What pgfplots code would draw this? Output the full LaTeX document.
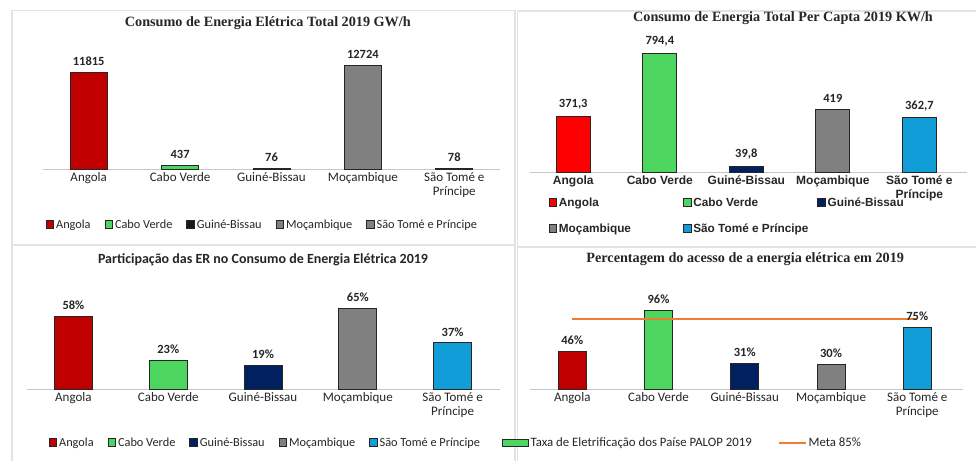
\documentclass[border=0pt]{standalone}
\usepackage{pgfplots}
\pgfplotsset{compat=1.18}
\usepackage{fontspec}
\setmainfont{Carlito}
\newfontfamily\serifb{Liberation Serif}
\newfontfamily\arialf{Liberation Sans}

\definecolor{cRed}{HTML}{C00000}
\definecolor{cRedB}{HTML}{FF0000}
\definecolor{cGreen}{HTML}{4CD660}
\definecolor{cNavy}{HTML}{002060}
\definecolor{cGray}{HTML}{808080}
\definecolor{cBlue}{HTML}{119ED8}
\definecolor{cOrange}{HTML}{ED7D31}
\definecolor{cBlack}{HTML}{1A1A1A}
\definecolor{frameG}{HTML}{E3E3E3}

\pgfplotsset{
  panel/.style={
    scale only axis, clip=false,
    axis x line*=bottom, axis y line=none,
    x axis line style={-, draw=gray!45, line width=0.8pt},
    xtick={0,1,2,3,4}, major tick length=0pt, ymin=0,
    xticklabel style={align=center, font=\fontsize{13}{14.5}\selectfont, text=black!85},
    xticklabels={Angola,Cabo Verde,Guiné-Bissau,Moçambique,{São Tomé e\\Príncipe}},
    legend cell align=left,
    legend style={draw=none, fill=none, font=\fontsize{12.3}{13}\selectfont, text=black!85,
      /tikz/every even column/.append style={column sep=12pt}},
    title style={font=\serifb\bfseries\fontsize{14.2}{16}\selectfont, anchor=center, text=black!85},
  },
  pbar/.style={ybar, bar width=#1, draw=black!85, line width=0.8pt,
     legend image code/.code={\draw[##1, line width=0.8pt] (0pt,-3.4pt) rectangle (7.6pt,4.2pt);},
     nodes near coords, point meta=explicit symbolic,
     every node near coord/.append style={font=\bfseries\fontsize{12.5}{13}\selectfont, text=black!85, yshift=3pt}},
  rectleg/.style={legend image code/.code={\draw[##1] (0pt,-3.5pt) rectangle (26pt,3.5pt);}},
  lineleg/.style={legend image code/.code={\draw[##1] (0pt,0pt) -- (27pt,0pt);}},
}

\begin{document}
\begin{tikzpicture}
\useasboundingbox (0,0) rectangle (976pt,460pt);
\fill[white] (0,0) rectangle (976pt,460pt);
\draw[frameG, line width=1.5pt] (12pt,-2pt) -- (12pt,449.5pt) -- (515pt,449.5pt) -- (515pt,-2pt);
\draw[frameG, line width=1.5pt] (12pt,215pt) -- (515pt,215pt);
\draw[frameG, line width=1.5pt] (980pt,449pt) -- (517.5pt,449pt) -- (517.5pt,-2pt);
\draw[frameG, line width=1.5pt] (517.5pt,213pt) -- (980pt,213pt);

% ---------------- Panel A (top-left)
\begin{axis}[panel, at={(43pt,291pt)}, anchor=south west, width=457pt, height=130pt,
  xmin=-0.5, xmax=4.5, ymax=15905,
  title={Consumo de Energia Elétrica Total 2019 GW/h},
  title style={at={(0.492,1.077)}},
  legend columns=5,
  legend style={at={(0.48,-0.43)}, anchor=center},
]
\addplot[pbar=37pt, fill=cRed] coordinates {(0,11815) [11815]};
\addlegendentry{Angola}
\addplot[pbar=37pt, fill=cGreen] coordinates {(1,437) [437]};
\addlegendentry{Cabo Verde}
\addplot[pbar=37pt, fill=cBlack] coordinates {(2,76) [76]};
\addlegendentry{Guiné-Bissau}
\addplot[pbar=37pt, fill=cGray] coordinates {(3,12724) [12724]};
\addlegendentry{Moçambique}
\addplot[pbar=37pt, fill=cGray] coordinates {(4,78) [78]};
\addlegendentry{São Tomé e Príncipe}
\end{axis}

% ---------------- Panel B (top-right)
\begin{axis}[panel, at={(530pt,288pt)}, anchor=south west, width=437pt, height=130pt,
  xmin=-0.5, xmax=4.55, ymax=867.8,
  title={Consumo de Energia Total Per Capta 2019 KW/h},
  title style={at={(0.579,1.138)}},
  xticklabel style={font=\arialf\bfseries\fontsize{12}{14}\selectfont},
  legend columns=3,
  legend style={at={(0.035,-0.165)}, anchor=north west, row sep=12pt,
    font=\arialf\bfseries\fontsize{11.8}{13}\selectfont,
    /tikz/every even column/.append style={column sep=0pt}},
  every node near coord/.append style={font=\arialf\bfseries\fontsize{12.5}{13}\selectfont},
]
\addplot[pbar=34pt, fill=cRedB] coordinates {(0,371.3) [371,3]};
\addlegendentry{\makebox[122pt][l]{Angola}}
\addplot[pbar=34pt, fill=cGreen] coordinates {(1,794.4) [794,4]};
\addlegendentry{\makebox[122pt][l]{Cabo Verde}}
\addplot[pbar=34pt, fill=cNavy] coordinates {(2,39.8) [39,8]};
\addlegendentry{\makebox[122pt][l]{Guiné-Bissau}}
\addplot[pbar=34pt, fill=cGray] coordinates {(3,419) [419]};
\addlegendentry{\makebox[122pt][l]{Moçambique}}
\addplot[pbar=34pt, fill=cBlue] coordinates {(4,362.7) [362,7]};
\addlegendentry{\makebox[122pt][l]{São Tomé e Príncipe}}
\end{axis}

% ---------------- Panel C (bottom-left)
\begin{axis}[panel, at={(27pt,71pt)}, anchor=south west, width=473pt, height=100pt,
  xmin=-0.49, xmax=4.5, ymax=80.2,
  title={Participação das ER no Consumo de Energia Elétrica 2019},
  title style={at={(0.499,1.23)}, font=\bfseries\fontsize{14}{16}\selectfont},
  legend columns=5,
  legend style={at={(0.504,-0.54)}, anchor=center},
]
\addplot[pbar=38pt, fill=cRed] coordinates {(0,58) [58\%]};
\addlegendentry{Angola}
\addplot[pbar=38pt, fill=cGreen] coordinates {(1,23) [23\%]};
\addlegendentry{Cabo Verde}
\addplot[pbar=38pt, fill=cNavy] coordinates {(2,19) [19\%]};
\addlegendentry{Guiné-Bissau}
\addplot[pbar=38pt, fill=cGray] coordinates {(3,65) [65\%]};
\addlegendentry{Moçambique}
\addplot[pbar=38pt, fill=cBlue] coordinates {(4,37) [37\%]};
\addlegendentry{São Tomé e Príncipe}
\end{axis}

% ---------------- Panel D (bottom-right)
\begin{axis}[panel, at={(530pt,71pt)}, anchor=south west, width=433pt, height=100pt,
  xmin=-0.49, xmax=4.53, ymax=121.5,
  title={Percentagem do acesso de a energia elétrica em 2019},
  title style={at={(0.497,1.24)}},
  legend columns=2,
  legend style={at={(0.352,-0.54)}, anchor=center, font=\fontsize{12.8}{14}\selectfont,
    /tikz/every even column/.append style={column sep=24pt}},
]
\addlegendimage{fill=cGreen, draw=black!85, line width=0.8pt, rectleg}
\addlegendentry{Taxa de Eletrificação dos Paíse PALOP 2019}
\addlegendimage{cOrange, line width=1.8pt, lineleg}
\addlegendentry{Meta 85\%}
\addplot[pbar=28pt, fill=cRed, forget plot] coordinates {(0,46) [46\%]};
\addplot[pbar=28pt, fill=cGreen, forget plot] coordinates {(1,96) [96\%]};
\addplot[pbar=28pt, fill=cNavy, forget plot] coordinates {(2,31) [31\%]};
\addplot[pbar=28pt, fill=cGray, forget plot] coordinates {(3,30) [30\%]};
\addplot[pbar=28pt, fill=cBlue, forget plot] coordinates {(4,75) [75\%]};
\addplot[cOrange, line width=1.8pt, forget plot] coordinates {(0,85) (4,85)};
\end{axis}
\end{tikzpicture}
\end{document}
